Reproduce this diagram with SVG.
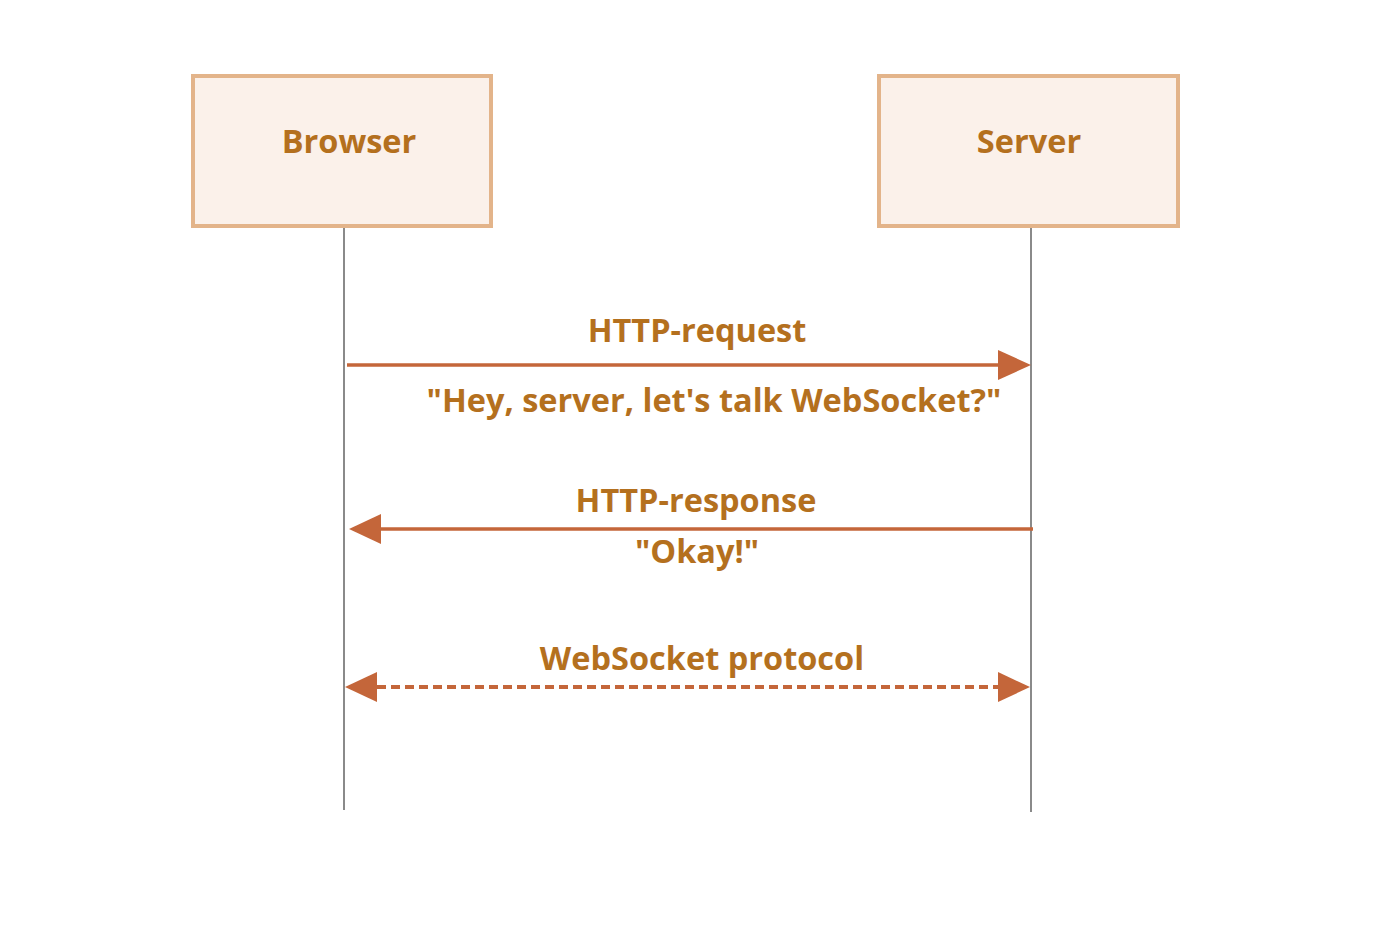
<svg xmlns="http://www.w3.org/2000/svg" width="1400" height="933" viewBox="0 0 1400 933">
<defs>
<style>
.box{fill:#FBF1EA;stroke:#E3B48A;stroke-width:4}
.life{stroke:#8A8A8A;stroke-width:2;fill:none}
.msg{stroke:#C4663A;stroke-width:3.5;fill:none}
.dash{stroke-dasharray:9 5;stroke-width:4}
.t{font-family:"Open Sans","Liberation Sans",sans-serif;font-weight:bold;fill:#B4701E;text-anchor:middle;font-size:32.5px}
.head{fill:#C4663A}
</style>
</defs>
<rect width="1400" height="933" fill="#fff"/>
<g id="browser">
<rect class="box" x="193" y="76" width="298" height="150"/>
<text class="t" x="349" y="153">Browser</text>
</g>
<g id="server">
<rect class="box" x="879" y="76" width="299" height="150"/>
<text class="t" x="1029" y="153">Server</text>
</g>
<g id="connectors">
<line class="life" x1="344" y1="228" x2="344" y2="810"/>
<line class="life" x1="1031" y1="228" x2="1031" y2="812"/>
<line class="msg" x1="347" y1="365" x2="1000" y2="365"/>
<polygon class="head" points="998,350 1031,365 998,380"/>
<line class="msg" x1="1033" y1="529" x2="378" y2="529"/>
<polygon class="head" points="381,514 349,529 381,544"/>
<line class="msg dash" x1="377" y1="687" x2="1000" y2="687"/>
<polygon class="head" points="377,672 345,687 377,702"/>
<polygon class="head" points="998,672 1030,687 998,702"/>
</g>
<g id="labels">
<text class="t" x="697" y="342">HTTP-request</text>
<text class="t" x="714" y="412">"Hey, server, let's talk WebSocket?"</text>
<text class="t" x="696" y="512">HTTP-response</text>
<text class="t" x="697" y="563">"Okay!"</text>
<text class="t" x="702" y="670">WebSocket protocol</text>
</g>
</svg>
